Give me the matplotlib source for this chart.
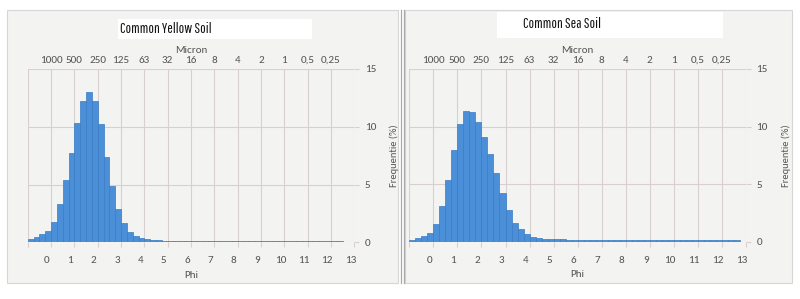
import numpy as np
import matplotlib
matplotlib.use("Agg")
import matplotlib.pyplot as plt
from matplotlib.patches import Rectangle
from matplotlib.lines import Line2D
import matplotlib.transforms as mtransforms

# ---------------- data ----------------
bin_width = 0.25
phi_start = -1.0
phi_ticks = list(range(0, 14))
micron_ticks = list(range(0, 13))
micron_labels = ["1000", "500", "250", "125", "63", "32", "16", "8", "4", "2", "1", "0,5", "0,25"]
y_ticks = [0, 5, 10, 15]

yellow_soil = [0.26, 0.49, 0.72, 1.0,
               1.8, 3.3, 5.4, 7.76,
               10.3, 12.27, 13.0, 12.27,
               10.2, 7.36, 4.88, 2.86,
               1.7, 0.92, 0.58, 0.4,
               0.26, 0.2, 0.17, 0.15,
               0.15, 0.14, 0.14, 0.14,
               0.14, 0.14, 0.14, 0.14,
               0.12, 0.12, 0.12, 0.12,
               0.12, 0.12, 0.12, 0.12,
               0.12, 0.12, 0.12, 0.12,
               0.12, 0.12, 0.12, 0.12,
               0.1, 0.1, 0.1, 0.1,
               0.1, 0.1, 0.0, 0.0]

sea_soil = [0.15, 0.3, 0.5, 0.78,
            1.54, 3.1, 5.4, 7.97,
            10.2, 11.36, 11.3, 10.4,
            9.1, 7.6, 6.0, 4.26,
            2.75, 1.65, 1.1, 0.64,
            0.43, 0.3, 0.25, 0.22,
            0.22, 0.2, 0.18, 0.18,
            0.17, 0.17, 0.17, 0.17,
            0.17, 0.17, 0.18, 0.18,
            0.18, 0.18, 0.17, 0.17,
            0.17, 0.17, 0.17, 0.17,
            0.17, 0.14, 0.12, 0.12,
            0.12, 0.12, 0.12, 0.12,
            0.12, 0.12, 0.12, 0.0]

titles = ["Common Yellow Soil", "Common Sea Soil"]

# ---------------- figure ----------------
W, H = 800, 299
fig = plt.figure(figsize=(W / 100, H / 100), dpi=100, facecolor="white")

def fx(x):
    return x / W

def fy(y):
    return 1 - y / H

panel_col = "#f3f3f2"
grid_col = "#dacfcf"
text_col = "#555555"
bar_face = "#4a8fd8"
bar_edge = "#3a7bc4"
tick_font = ["Carlito", "Lato"]
fs = 8

# panel backgrounds
fig.patches.append(Rectangle((fx(7), fy(283)), fx(398 - 7), (283 - 10) / H,
                             transform=fig.transFigure, facecolor=panel_col,
                             edgecolor="#d6d6d6", lw=0.8, zorder=-10))
fig.patches.append(Rectangle((fx(405), fy(283)), fx(792 - 405), (283 - 10) / H,
                             transform=fig.transFigure, facecolor=panel_col,
                             edgecolor="#d6d6d6", lw=0.8, zorder=-10))
for xl in (401, 404):
    fig.lines.append(Line2D([fx(xl), fx(xl)], [fy(283), fy(10)],
                            transform=fig.transFigure, color="#a8a8a8", lw=0.9, zorder=-9))

axes_px = [(27.7, 354.3, 69, 242.3), (409.3, 746.0, 69, 241.7)]
title_boxes = [(118, 312, 19, 39, 120, 29), (497, 723, 12, 38, 523, 24)]
series = [yellow_soil, sea_soil]

for (x0, x1, ytop, ybot), vals, title, tb in zip(axes_px, series, titles, title_boxes):
    ax = fig.add_axes([fx(x0), fy(ybot), fx(x1 - x0), (ybot - ytop) / H])
    ax.patch.set_alpha(0)
    edges = phi_start + bin_width * np.arange(len(vals))
    ax.bar(edges, vals, width=bin_width, align="edge", color=bar_face,
           edgecolor=bar_edge, linewidth=0.5, zorder=3)
    ax.set_xlim(-1, 13)
    ax.set_ylim(0, 15)
    for s in ax.spines.values():
        s.set_visible(False)

    # vertical gridlines (minor ticks at every integer incl. left edge)
    ax.xaxis.remove_overlapping_locs = False
    ax.set_xticks(np.arange(-1, 14), minor=True)
    ax.set_xticks(phi_ticks)
    ax.set_xticklabels([str(t) for t in phi_ticks], fontsize=fs,
                       color=text_col, family=tick_font)
    ax.tick_params(axis="x", which="major", length=0, pad=10)
    ax.tick_params(axis="x", which="minor", length=3.5, color=grid_col, width=0.8)
    ax.grid(False, axis="x", which="major")
    ax.grid(True, axis="x", which="minor", color=grid_col, lw=0.8, zorder=0)
    off = mtransforms.ScaledTranslation(-4 / 100, 0, fig.dpi_scale_trans)
    for lab in ax.get_xticklabels():
        lab.set_transform(lab.get_transform() + off)
    ax.set_xlabel("Phi", fontsize=fs, color=text_col, family=tick_font, labelpad=4)

    # y axis on the right
    ax.yaxis.tick_right()
    ax.set_yticks(y_ticks)
    ax.set_yticklabels([str(t) for t in y_ticks], fontsize=fs,
                       color=text_col, family=tick_font)
    ax.tick_params(axis="y", length=3.5, color=grid_col, width=0.8, pad=4)
    ax.grid(True, axis="y", color=grid_col, lw=0.8, zorder=0)
    ax.yaxis.set_label_position("right")
    ax.set_ylabel("Frequentie (%)", fontsize=7.5, color=text_col, family=tick_font,
                  rotation=90)
    ax.yaxis.set_label_coords((x1 - x0 + 35) / (x1 - x0), 0.5)

    # top micron axis
    sec = ax.secondary_xaxis("top")
    sec.set_xticks(micron_ticks)
    sec.set_xticklabels(micron_labels, fontsize=fs, color=text_col, family=tick_font)
    sec.tick_params(length=0, pad=3)
    sec.spines["top"].set_visible(False)
    sec.set_xlabel("Micron", fontsize=fs, color=text_col, family=tick_font, labelpad=2)

    # title box
    bx0, bx1, by0, by1, tx, ty = tb
    fig.patches.append(Rectangle((fx(bx0), fy(by1)), fx(bx1 - bx0), (by1 - by0) / H,
                                 transform=fig.transFigure, facecolor="white",
                                 edgecolor="none", zorder=1))
    fig.text(fx(tx), fy(ty), title, fontsize=10.5,
             family=["Pathway Gothic One", "DejaVu Sans"],
             color="#111111", ha="left", va="center", zorder=5)

fig.savefig("out.png", dpi=100, facecolor="white")
